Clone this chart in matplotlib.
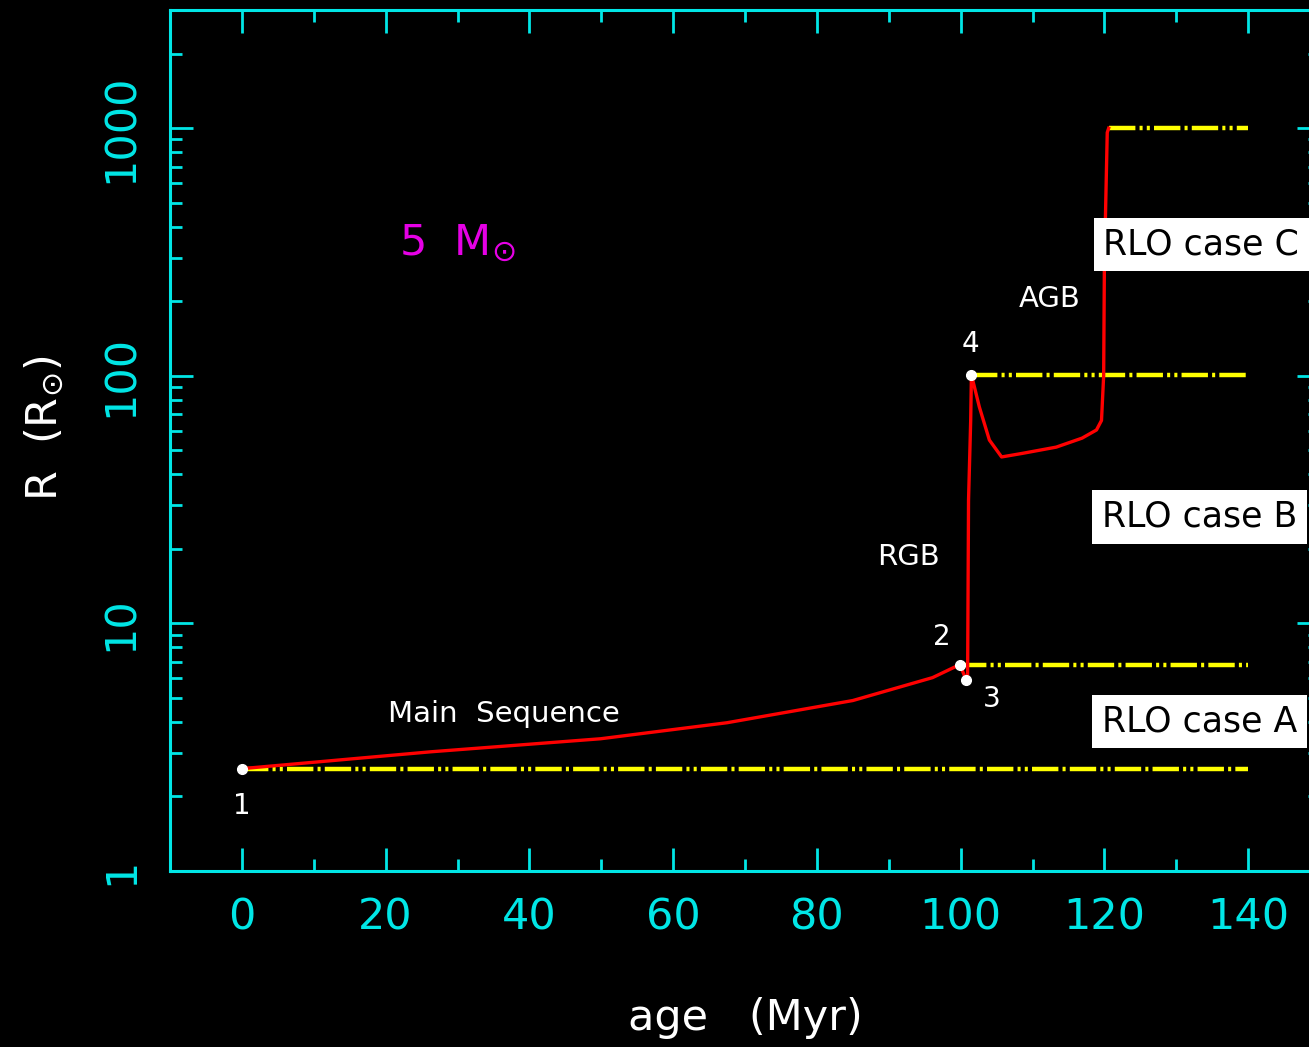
import matplotlib
matplotlib.use('Agg')
import matplotlib.pyplot as plt
import numpy as np

plt.rcParams['lines.scale_dashes'] = False

# evolution track of a 5 Msun star (age in Myr, radius in Rsun)
ms_age = [0.0, 26.3, 49.9, 67.5, 85.0, 96.1, 99.9]
ms_rad = [2.59, 3.03, 3.42, 3.97, 4.88, 6.04, 6.82]
rgb_age = [100.8, 100.97, 101.1, 101.4, 101.5]
rgb_rad = [5.88, 6.0, 31.4, 66.0, 101.0]
agb_age = [102.6, 104.0, 105.7, 108.6, 113.3, 116.9, 118.9, 119.6, 119.9, 120.0, 120.4, 120.6]
agb_rad = [74.9, 55.0, 47.0, 48.6, 51.5, 56.0, 60.4, 66.0, 100.0, 276.0, 960.0, 1000.0]

# key points 1..4
pt_age = [0.0, 99.9, 100.8, 101.5]
pt_rad = [2.59, 6.82, 5.88, 101.0]
pt_lab = ['1', '2', '3', '4']

# RLO limits (yellow lines): start age, radius
rlo_start = [0.0, 99.9, 101.5, 120.6]
rlo_rad = [2.59, 6.82, 101.0, 1000.0]
rlo_end = 140.0

cyan = '#00e6e6'

fig = plt.figure(figsize=(13.09, 10.47), dpi=100, facecolor='black')
ax = fig.add_axes([170/1309, 176/1047, 1150/1309, 861/1047])
ax.set_facecolor('black')

ax.plot(ms_age + rgb_age + agb_age, ms_rad + rgb_rad + agb_rad, color='red', lw=2.4, zorder=3)
for s, r in zip(rlo_start, rlo_rad):
    ax.plot([s, rlo_end], [r, r], color='yellow', lw=3.2,
            dashes=(19, 3, 2.2, 3, 2.2, 3, 19, 3, 2.2, 3), zorder=2)
ax.plot(pt_age, pt_rad, 'o', color='white', ms=7, zorder=4)

ax.set_yscale('log')
ax.set_xlim(-10, 150)
ax.set_ylim(1, 3000)
ax.set_xticks(np.arange(0, 141, 20))
ax.set_xticks(np.arange(0, 150, 10), minor=True)
ax.set_yticks([1, 10, 100, 1000])
ax.set_yticklabels(['1', '10', '100', '1000'], rotation=90, va='center')

for sp in ax.spines.values():
    sp.set_color(cyan)
    sp.set_linewidth(2.2)
ax.tick_params(which='both', direction='in', top=True, right=True, color=cyan,
               labelcolor=cyan, width=2)
ax.tick_params(which='major', length=16.5, labelsize=31)
ax.tick_params(which='minor', length=8.5)
ax.tick_params(axis='x', pad=18)
ax.tick_params(axis='y', pad=20)

ax.set_xlabel('age   (Myr)', color='white', fontsize=31, va='center')
ax.xaxis.set_label_coords(0.5, -0.171)
ax.set_ylabel(r'R  (R$_{\odot}$)', color='white', fontsize=31, va='center')
ax.yaxis.set_label_coords(-0.109, 0.5145)

# point numbers
offs = [(0, -27), (-13, 20), (18, -13), (-1, 22)]
for a, r, t, (dx, dy) in zip(pt_age, pt_rad, pt_lab, offs):
    ax.annotate(t, (a, r), xytext=(dx, dy), textcoords='offset points',
                color='white', fontsize=20, ha='center', va='center')

ax.text(20.3, 4.32, 'Main  Sequence', color='white', fontsize=21, ha='left', va='center')
ax.text(92.8, 18.5, 'RGB', color='white', fontsize=21, ha='center', va='center')
ax.text(112.4, 205, 'AGB', color='white', fontsize=21, ha='center', va='center')
ax.text(21.8, 345, r'5  M$_{\odot}$', color='#e600e6', fontsize=31, ha='left', va='center')

box = dict(boxstyle='square,pad=0.28', facecolor='white', edgecolor='none')
ax.text(133.5, 339, 'RLO case C', color='black', fontsize=25, ha='center', va='center', bbox=box, zorder=5)
ax.text(133.2, 26.9, 'RLO case B', color='black', fontsize=25, ha='center', va='center', bbox=box, zorder=5)
ax.text(133.2, 4.01, 'RLO case A', color='black', fontsize=25, ha='center', va='center', bbox=box, zorder=5)

plt.savefig('out.png', dpi=100, facecolor='black')
